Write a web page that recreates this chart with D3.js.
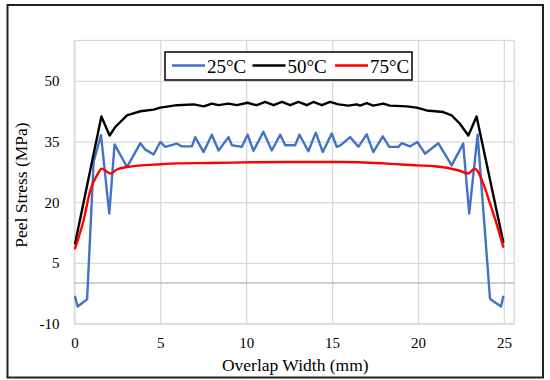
<!DOCTYPE html>
<html><head><meta charset="utf-8">
<script src="https://cdn.jsdelivr.net/npm/d3@7/dist/d3.min.js"></script>
<style>body{margin:0;background:#fff}svg{display:block}svg text{font-family:"Liberation Serif","Times New Roman",serif}</style>
</head><body><svg id="c" width="550" height="380"></svg>
<script>
// ---- data ----
const seriesNames = ["25\u00B0C", "50\u00B0C", "75\u00B0C"];
const xTicks = [0, 5, 10, 15, 20, 25];
const yTicks = [-10, 5, 20, 35, 50];
const xTitle = "Overlap Width (mm)";
const yTitle = "Peel Stress (MPa)";

const x25 = [0.04, 0.19, 0.74, 1.12, 1.55, 2.03, 2.34, 3.06, 3.84, 4.13, 4.61, 5.0, 5.29, 5.97, 6.26, 6.84, 7.03, 7.52, 8.0, 8.39, 8.97, 9.17, 9.75, 10.08, 10.42, 11.0, 11.49, 11.98, 12.27, 12.85, 13.1, 13.62, 14.05, 14.46, 14.98, 15.27, 15.5, 16.05, 16.53, 17.01, 17.4, 17.95, 18.33, 18.86, 19.05, 19.53, 19.96, 20.41, 21.18, 21.96, 22.63, 22.98, 23.47, 24.19, 24.28, 24.83, 24.96];
const y25 = [-3.4, -5.8, -4.0, 30.0, 36.6, 17.2, 34.3, 28.7, 34.6, 33.0, 31.8, 34.9, 33.7, 34.5, 33.8, 33.8, 36.1, 32.4, 36.7, 32.8, 36.1, 34.1, 33.7, 36.7, 32.7, 37.4, 32.8, 36.7, 34.1, 34.1, 36.7, 32.6, 37.2, 32.4, 37.0, 33.7, 34.1, 36.1, 33.7, 36.8, 32.4, 36.3, 33.7, 33.7, 34.6, 33.8, 34.9, 32.0, 34.6, 29.1, 34.5, 17.2, 36.7, -3.8, -4.2, -5.8, -3.4];

const x50 = [0.04, 1.57, 2.05, 2.38, 3.06, 3.84, 4.61, 5.0, 5.97, 6.95, 7.53, 8.0, 8.39, 8.97, 9.46, 10.08, 10.5, 10.62, 11.1, 11.59, 12.08, 12.56, 13.04, 13.53, 13.91, 14.4, 14.88, 15.37, 15.95, 16.44, 16.63, 17.01, 17.4, 17.98, 18.37, 19.34, 19.92, 20.5, 20.99, 21.47, 21.96, 22.44, 22.93, 23.41, 24.96];
const y50 = [9.8, 41.2, 36.5, 38.6, 41.5, 42.5, 42.9, 43.4, 44.0, 44.2, 43.7, 44.4, 44.0, 44.4, 44.0, 44.6, 44.1, 44.0, 44.8, 44.0, 44.8, 44.0, 44.8, 44.0, 44.8, 44.0, 44.8, 44.2, 43.9, 44.2, 43.9, 44.5, 43.9, 44.4, 43.9, 43.7, 43.4, 42.7, 42.5, 42.3, 41.5, 39.4, 36.5, 41.2, 10.2];

const x75 = [0.04, 0.54, 0.93, 1.32, 1.6, 2.09, 2.48, 3.06, 5.0, 5.97, 7.9, 10.42, 12.5, 15.5, 18.0, 19.96, 20.99, 22.33, 22.93, 23.3, 23.8, 24.19, 24.57, 24.96];
const y75 = [8.6, 15.6, 23.0, 26.7, 28.3, 27.1, 28.1, 28.7, 29.4, 29.6, 29.7, 29.9, 29.95, 29.95, 29.6, 29.1, 28.9, 27.9, 27.1, 28.3, 24.6, 19.7, 14.7, 9.0];

const seriesX = [x25, x50, x75];
const seriesY = [y25, y50, y75];
const colors = ["#4472C4", "#000000", "#FF0000"];

// ---- layout ----
const svg = d3.select("#c");
const L = 74.4, R = 514.2, T = 40.5, B = 323.5;
const x = d3.scaleLinear().domain([0, 25.6]).range([L, R]);
const y = d3.scaleLinear().domain([-10, 60]).range([B, T]);
const serif = "Liberation Serif, Times New Roman, serif";

svg.append("rect").attr("x", 0).attr("y", 0).attr("width", 550).attr("height", 380).attr("fill", "#fff");

// plot area border
svg.append("rect").attr("x", L).attr("y", T).attr("width", R - L).attr("height", B - T)
  .attr("fill", "none").attr("stroke", "#d9d9d9").attr("stroke-width", 1.3);

// grid
const gx = svg.append("g").attr("transform", `translate(0,${B})`)
  .call(d3.axisBottom(x).tickValues(xTicks).tickSize(-(B - T)).tickFormat(d => d).tickPadding(14));
gx.attr("font-family", null);
gx.select(".domain").remove();
gx.selectAll(".tick line").attr("stroke", "#d9d9d9").attr("stroke-width", 1.3);
gx.selectAll(".tick text").style("font-family", serif).attr("font-size", 15).attr("fill", "#000");

const gy = svg.append("g").attr("transform", `translate(${L},0)`)
  .call(d3.axisLeft(y).tickValues(yTicks).tickSize(-(R - L)).tickFormat(d => d).tickPadding(15));
gy.attr("font-family", null);
gy.select(".domain").remove();
gy.selectAll(".tick line").attr("stroke", "#d9d9d9").attr("stroke-width", 1.3);
gy.selectAll(".tick text").style("font-family", serif).attr("font-size", 15).attr("fill", "#000");

// zero axis line
svg.append("line").attr("x1", L).attr("x2", R).attr("y1", y(0)).attr("y2", y(0))
  .attr("stroke", "#bfbfbf").attr("stroke-width", 1.6);

// series
const curves = [d3.curveLinear, d3.curveLinear, d3.curveMonotoneX];
seriesX.forEach((xs, i) => {
  const line = d3.line().curve(curves[i]).x(d => x(d[0])).y(d => y(d[1]));
  const pts = xs.map((v, j) => [v, seriesY[i][j]]);
  svg.append("path").datum(pts).attr("d", line)
    .attr("fill", "none").attr("stroke", colors[i]).attr("stroke-width", 2.4)
    .attr("stroke-linejoin", "round").attr("stroke-linecap", "round");
});

// axis titles
svg.append("text").attr("x", (L + R) / 2 + 1).attr("y", 371).attr("text-anchor", "middle")
  .style("font-family", serif).attr("font-size", 17.5).text(xTitle);
svg.append("text").attr("transform", `translate(27,${(T + B) / 2 + 3}) rotate(-90)`).attr("text-anchor", "middle")
  .style("font-family", serif).attr("font-size", 17.5).text(yTitle);

// legend
const lg = svg.append("g");
lg.append("rect").attr("x", 165).attr("y", 52).attr("width", 247).attr("height", 28)
  .attr("fill", "#fff").attr("stroke", "#000").attr("stroke-width", 1.5);
const legX = [172, 252.5, 335];
seriesNames.forEach((n, i) => {
  lg.append("line").attr("x1", legX[i]).attr("x2", legX[i] + 33).attr("y1", 65.5).attr("y2", 65.5)
    .attr("stroke", colors[i]).attr("stroke-width", 2.4);
  lg.append("text").attr("x", legX[i] + 35).attr("y", 72.5).style("font-family", serif)
    .attr("font-size", 19).text(n);
});

// outer frame
svg.append("rect").attr("x", 7.5).attr("y", 5).attr("width", 535.5).attr("height", 372.5)
  .attr("fill", "none").attr("stroke", "#222").attr("stroke-width", 2);
</script></body></html>
